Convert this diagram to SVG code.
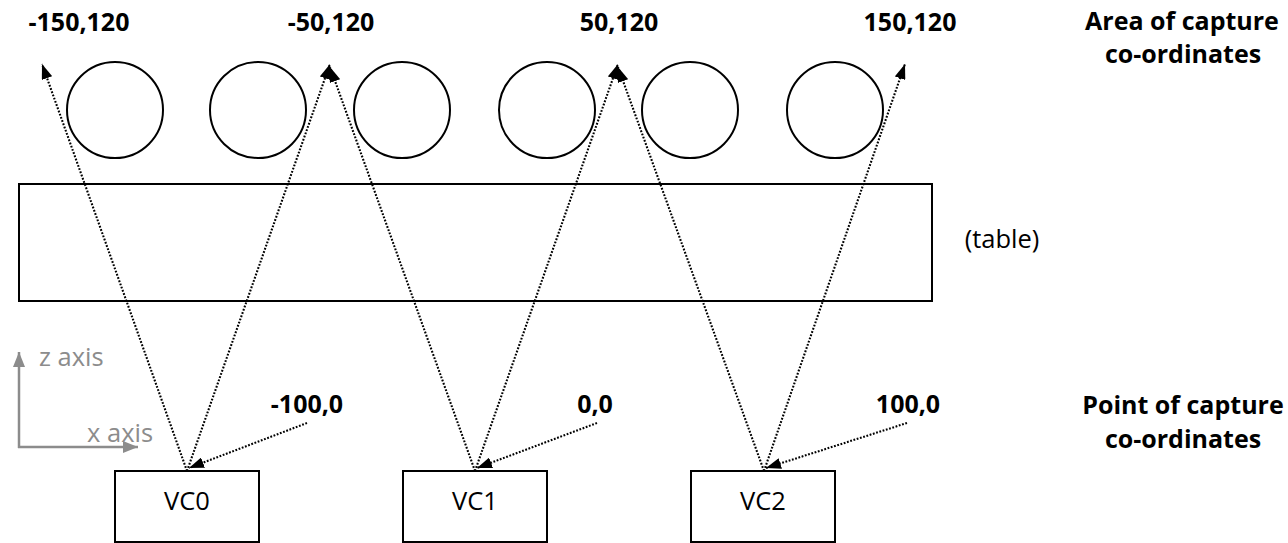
<svg xmlns="http://www.w3.org/2000/svg" width="1288" height="543" viewBox="0 0 1288 543">
<style>
.shape{fill:#fff;stroke:#000;stroke-width:2}
.bold{font-family:"Open Sans","Liberation Sans",sans-serif;font-weight:bold;font-size:25px;fill:#000;text-anchor:middle}
.reg{font-family:"Open Sans","Liberation Sans",sans-serif;font-size:25.5px;fill:#000;text-anchor:middle}
.axis{font-family:"Open Sans","Liberation Sans",sans-serif;font-size:25.5px;fill:#8c8c8c}
.dot{fill:none;stroke:#000;stroke-width:2.1;stroke-dasharray:1.8 1.6;marker-end:url(#ah)}
.ax{fill:none;stroke:#8c8c8c;stroke-width:2.5;marker-end:url(#gah)}
</style>
<defs>
<marker id="ah" markerUnits="userSpaceOnUse" markerWidth="15" markerHeight="11" refX="15" refY="5.5" orient="auto"><path d="M0,0 L15,5.5 L0,11 z" fill="#000"/></marker>
<marker id="gah" markerUnits="userSpaceOnUse" markerWidth="15" markerHeight="12" refX="15" refY="6" orient="auto"><path d="M0,0 L15,6 L0,12 z" fill="#8c8c8c"/></marker>
</defs>
<rect width="1288" height="543" fill="#fff"/>
<g id="targets">
<circle id="c1" class="shape" cx="115" cy="110" r="48"/>
<circle id="c2" class="shape" cx="258" cy="110" r="48"/>
<circle id="c3" class="shape" cx="402" cy="110" r="48"/>
<circle id="c4" class="shape" cx="547" cy="110" r="48"/>
<circle id="c5" class="shape" cx="690" cy="110" r="48"/>
<circle id="c6" class="shape" cx="835" cy="110" r="48"/>
</g>
<g id="table"><rect class="shape" x="19" y="184" width="913" height="117"/></g>
<g id="vc0"><rect class="shape" x="115" y="471" width="144" height="71"/><text class="reg" x="187" y="510">VC0</text></g>
<g id="vc1"><rect class="shape" x="403" y="471" width="144" height="71"/><text class="reg" x="475" y="510">VC1</text></g>
<g id="vc2"><rect class="shape" x="691" y="471" width="144" height="71"/><text class="reg" x="763" y="510">VC2</text></g>
<g id="connectors">
<line class="dot" x1="187" y1="471" x2="42" y2="64"/>
<line class="dot" x1="187" y1="471" x2="330" y2="64"/>
<line class="dot" x1="475" y1="471" x2="330" y2="67"/>
<line class="dot" x1="475" y1="471" x2="618" y2="64"/>
<line class="dot" x1="764" y1="471" x2="618" y2="67"/>
<line class="dot" x1="764" y1="471" x2="905" y2="64"/>
<line class="dot" x1="307" y1="423" x2="189" y2="468"/>
<line class="dot" x1="597" y1="423" x2="477" y2="468"/>
<line class="dot" x1="907" y1="423" x2="766" y2="468"/>
</g>
<g id="axes">
<line class="ax" x1="19" y1="448" x2="19" y2="352"/>
<line class="ax" x1="18" y1="447" x2="138" y2="447"/>
<text class="axis" x="39" y="366">z axis</text>
<text class="axis" x="87" y="442">x axis</text>
</g>
<g id="labels">
<text class="bold" x="79" y="31">-150,120</text>
<text class="bold" x="331" y="31">-50,120</text>
<text class="bold" x="619" y="31">50,120</text>
<text class="bold" x="910" y="31">150,120</text>
<text class="bold" x="1182" y="30">Area of capture</text>
<text class="bold" x="1183" y="63">co-ordinates</text>
<text class="reg" x="1002" y="248">(table)</text>
<text class="bold" x="307" y="413">-100,0</text>
<text class="bold" x="595" y="413">0,0</text>
<text class="bold" x="908" y="413">100,0</text>
<text class="bold" x="1183" y="414">Point of capture</text>
<text class="bold" x="1183" y="448">co-ordinates</text>
</g>
</svg>
